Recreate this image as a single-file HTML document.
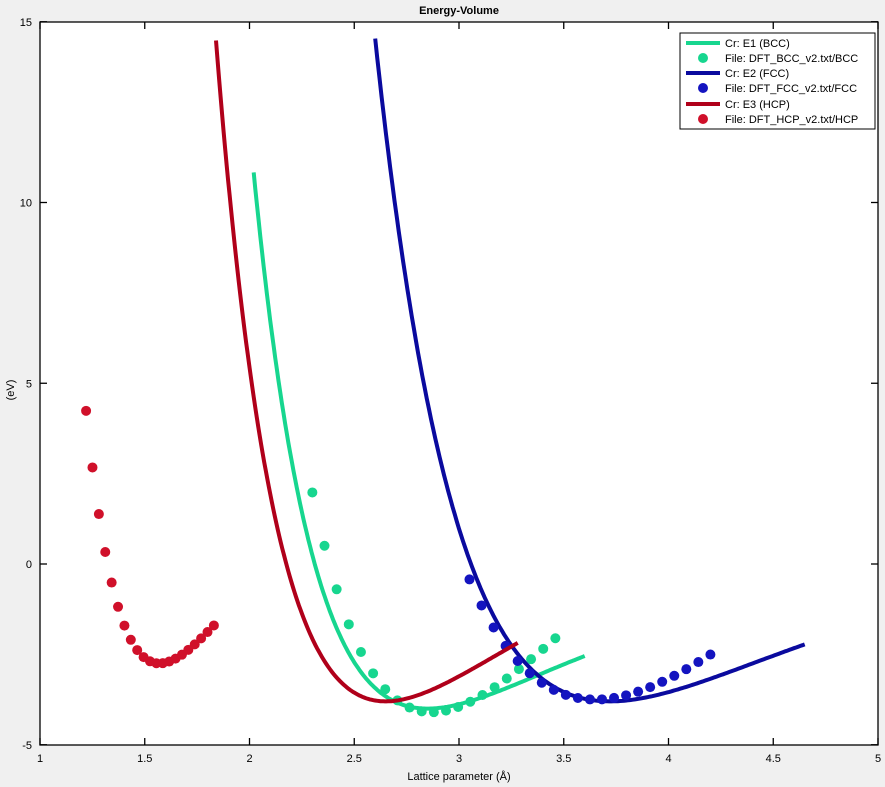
<!DOCTYPE html>
<html><head><meta charset="utf-8"><style>
html,body{margin:0;padding:0;background:#f0f0f0;}
svg{display:block;font-family:"Liberation Sans",Arial,sans-serif;}
</style></head><body>
<svg id="s" width="885" height="787" viewBox="0 0 885 787" xmlns="http://www.w3.org/2000/svg">
<rect x="0" y="0" width="885" height="787" fill="#f0f0f0"/>
<rect x="40" y="22" width="838" height="723" fill="#fff"/>
<g id="plot"></g>
<rect x="40" y="22" width="838" height="723" fill="none" stroke="#000" stroke-width="1.3"/>
<g id="ticks" stroke="#000" stroke-width="1.3"></g>
<g font-size="11" fill="#000" id="lab"></g>
<text x="459" y="14" font-size="11" font-weight="bold" text-anchor="middle">Energy-Volume</text>
<text x="459" y="780" font-size="11" text-anchor="middle">Lattice parameter (Å)</text>
<text transform="translate(14,390) rotate(-90)" font-size="11" text-anchor="middle">(eV)</text>
<g id="legend">
<rect x="680" y="33" width="195" height="96" fill="#fff" stroke="#000" stroke-width="1"/>
<line x1="686" y1="43" x2="720" y2="43" stroke="#17d68f" stroke-width="4"/>
<circle cx="703" cy="58" r="5" fill="#17d68f"/>
<line x1="686" y1="73" x2="720" y2="73" stroke="#0a0a9e" stroke-width="4"/>
<circle cx="703" cy="88" r="5" fill="#1414c0"/>
<line x1="686" y1="104" x2="720" y2="104" stroke="#b0001a" stroke-width="4"/>
<circle cx="703" cy="119" r="5" fill="#d0102a"/>
<g font-size="11">
<text x="725" y="47">Cr: E1 (BCC)</text>
<text x="725" y="62">File: DFT_BCC_v2.txt/BCC</text>
<text x="725" y="77">Cr: E2 (FCC)</text>
<text x="725" y="92">File: DFT_FCC_v2.txt/FCC</text>
<text x="725" y="108">Cr: E3 (HCP)</text>
<text x="725" y="123">File: DFT_HCP_v2.txt/HCP</text>
</g></g>
</svg>
<script>
var NS="http://www.w3.org/2000/svg";
function X(a){return 40+(a-1)*209.5;}
function Y(e){return 564-e*36.15;}
function el(t,at,p){var e=document.createElementNS(NS,t);for(var k in at)e.setAttribute(k,at[k]);p.appendChild(e);return e;}
function morse(a,a0,E0,D,k){var t=1-Math.exp(-k*(a-a0));return E0+D*t*t;}
var plot=document.getElementById("plot");
function line(a1,a2,a0,E0,D,k,col){var d="";for(var i=0;i<=200;i++){var a=a1+(a2-a1)*i/200;d+=(i?"L":"M")+X(a).toFixed(1)+","+Y(morse(a,a0,E0,D,k)).toFixed(1);}el("path",{d:d,fill:"none",stroke:col,"stroke-width":4},plot);}
function dots(a1,a2,n,a0,E0,D,k,col){for(var i=0;i<n;i++){var a=a1+(a2-a1)*i/(n-1);el("circle",{cx:X(a),cy:Y(morse(a,a0,E0,D,k)),r:5,fill:col},plot);}}
line(2.02,3.6,2.85,-4.0,3.65,1.33,"#17d68f");
dots(2.3,3.46,21,2.87,-4.1,10.3,1.0,"#17d68f");
line(2.6,4.65,3.72,-3.8,4.3,1.0,"#0a0a9e");
dots(3.05,4.2,21,3.65,-3.75,12.2,0.7,"#1414c0");
line(1.84,3.28,2.65,-3.8,5.12,1.31,"#b0001a");
dots(1.22,1.83,21,1.57,-2.75,5.93,2.1,"#d0102a");
var tk=document.getElementById("ticks"),lab=document.getElementById("lab");
for(var i=0;i<=8;i++){var a=1+i*0.5,x=X(a);
 el("line",{x1:x,y1:745,x2:x,y2:738},tk);el("line",{x1:x,y1:22,x2:x,y2:29},tk);
 var t=el("text",{x:x,y:762,"text-anchor":"middle"},lab);t.textContent=String(a);}
for(var j=0;j<=4;j++){var e=-5+j*5,y=Y(e);
 el("line",{x1:40,y1:y,x2:47,y2:y},tk);el("line",{x1:878,y1:y,x2:871,y2:y},tk);
 var t=el("text",{x:32,y:y+4,"text-anchor":"end"},lab);t.textContent=String(e);}
</script>
</body></html>
